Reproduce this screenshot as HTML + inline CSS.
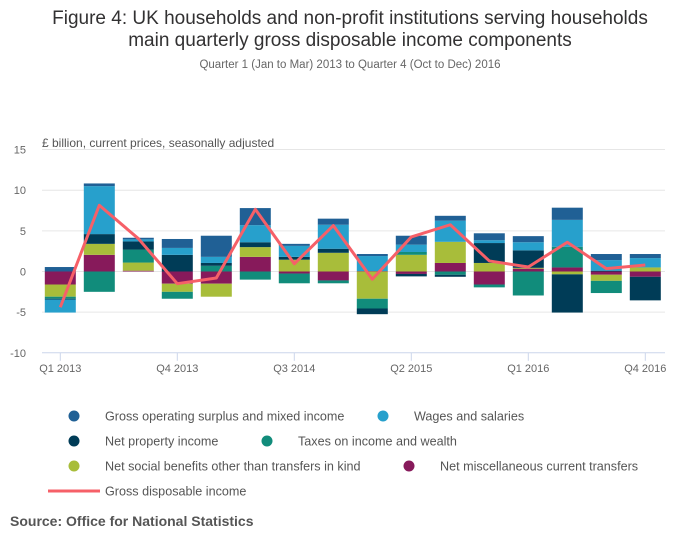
<!DOCTYPE html>
<html><head><meta charset="utf-8"><style>
body{margin:0;background:#fff;font-family:"Liberation Sans",sans-serif;}
#wrap{position:relative;width:700px;height:549px;overflow:hidden;}
</style></head><body>
<div id="wrap">
<svg id="svg" width="700" height="549">
<text x="350" y="24" text-anchor="middle" font-size="19" fill="#323132">Figure 4: UK households and non-profit institutions serving households</text>
<text x="350" y="46" text-anchor="middle" font-size="19" fill="#323132">main quarterly gross disposable income components</text>
<text x="350" y="68" text-anchor="middle" font-size="11.5" fill="#666">Quarter 1 (Jan to Mar) 2013 to Quarter 4 (Oct to Dec) 2016</text>
<text x="42" y="147" font-size="12" fill="#555">£ billion, current prices, seasonally adjusted</text>
<g id="grid"></g><g id="bars"></g><g id="line"></g><g id="xaxis"></g>
<g id="legend"></g>
<text x="10" y="526" font-size="14" font-weight="bold" fill="#555">Source: Office for National Statistics</text>
</svg></div>
<script>
const categories=["Q1 2013","Q2 2013","Q3 2013","Q4 2013","Q1 2014","Q2 2014","Q3 2014","Q4 2014","Q1 2015","Q2 2015","Q3 2015","Q4 2015","Q1 2016","Q2 2016","Q3 2016","Q4 2016"];
const gos=[0.55,0.33,0.2,1.1,2.6,2.1,0.25,0.75,0.25,1.1,0.6,0.85,0.75,1.5,0.75,0.5];
const wages=[-1.6,5.9,0.25,0.85,0.75,2.1,1.35,2.95,1.85,0.9,2.6,0.35,1.0,3.3,1.3,1.15];
const netProperty=[-0.1,1.2,1.0,2.05,0.35,0.6,0.35,0.5,-0.7,-0.3,-0.25,2.45,2.15,-4.7,0.1,-2.9];
const taxes=[-0.25,-2.5,1.6,-0.85,0.7,-1.0,-1.2,-0.35,-1.2,0.35,-0.4,-0.35,-2.95,2.55,-1.5,0];
const socialBenefits=[-1.5,1.35,1.0,-1.0,-1.6,1.2,1.45,2.3,-3.35,2.05,2.6,1.05,0.1,-0.35,-0.75,0.5];
const miscTransfers=[-1.6,2.05,0.1,-1.5,-1.5,1.8,-0.25,-1.1,0.05,-0.3,1.05,-1.6,0.35,0.5,-0.4,-0.65];
const gdi=[-4.4,8.15,4.05,-1.5,-0.8,7.65,0.95,5.65,-0.95,4.25,5.75,1.3,0.55,3.6,0.35,0.8];
const yTicks=[15,10,5,0,-5,-10];
const xTickIdx=[0,3,6,9,12,15];

const series=[
 {name:"Gross operating surplus and mixed income",data:gos,color:"#206095",lx:74,ly:416},
 {name:"Wages and salaries",data:wages,color:"#27a0cc",lx:383,ly:416},
 {name:"Net property income",data:netProperty,color:"#003c57",lx:74,ly:441},
 {name:"Taxes on income and wealth",data:taxes,color:"#118c7b",lx:267,ly:441},
 {name:"Net social benefits other than transfers in kind",data:socialBenefits,color:"#a8bd3a",lx:74,ly:466},
 {name:"Net miscellaneous current transfers",data:miscTransfers,color:"#871a5b",lx:409,ly:466}];
const NS="http://www.w3.org/2000/svg";
function mk(t,a,p){const e=document.createElementNS(NS,t);for(const k in a)e.setAttribute(k,a[k]);p.appendChild(e);return e;}
const y=v=>271.5-v*8.13;
const x=i=>60.3+i*39;
const bw=31;
const grid=document.getElementById('grid');
yTicks.forEach(t=>{
 const l=mk('line',{x1:42,x2:665,y1:y(t),y2:y(t),stroke:t===-10?'#ccd6eb':'#e6e6e6','stroke-width':1},grid);
 
 
 const tx=mk('text',{x:26,y:y(t)+4,'text-anchor':'end','font-size':11,fill:'#666'},grid);
 tx.textContent=t;
 
 
});
const xa=document.getElementById('xaxis');
xTickIdx.forEach(i=>{
 const l=mk('line',{x1:x(i),x2:x(i),y1:y(-10),y2:y(-10)+8,stroke:'#ccd6eb'},xa);
 
 
 const t=mk('text',{x:x(i),y:372,'text-anchor':'middle','font-size':11,fill:'#666'},xa);
 t.textContent=categories[i];
 
 
});
const bars=document.getElementById('bars');
categories.forEach((c,i)=>{
 let pos=0,neg=0;
 for(let s=series.length-1;s>=0;s--){
  const v=series[s].data[i];let y0,y1;
  if(v>=0){y0=pos;y1=pos+v;pos=y1;}else{y0=neg;y1=neg+v;neg=y1;}
  const top=y(Math.max(y0,y1)),h=Math.abs(y(y1)-y(y0));
  const r=mk('rect',{x:x(i)-bw/2,y:top,width:bw,height:h,fill:series[s].color},bars);
  
  
 }
});
const pts=gdi.map((v,i)=>x(i)+','+y(v)).join(' ');
const pl=mk('polyline',{points:pts,fill:'none',stroke:'#f66068','stroke-width':3,'stroke-linejoin':'round'},document.getElementById('line'));


const lg=document.getElementById('legend');
series.forEach((s,k)=>{
 const g=mk('g',{},lg);
 
 
 mk('circle',{cx:s.lx,cy:s.ly,r:5.5,fill:s.color},g);
 const t=mk('text',{x:s.lx+31,y:s.ly+4.5,'font-size':12.6,fill:'#555'},g);
 t.textContent=s.name;
});
const g=mk('g',{},lg);


mk('line',{x1:48,x2:100,y1:491,y2:491,stroke:'#f66068','stroke-width':3},g);
const t=mk('text',{x:105,y:495.5,'font-size':12.6,fill:'#555'},g);
t.textContent='Gross disposable income';
</script>
</body></html>
